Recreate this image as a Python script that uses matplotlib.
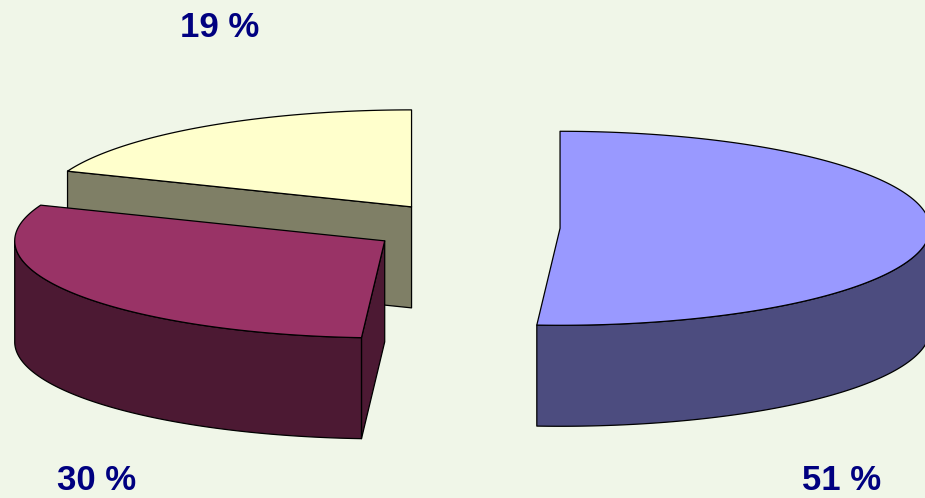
import numpy as np
import matplotlib.pyplot as plt
from matplotlib.patches import Polygon

# slice shares, clockwise from 12 o'clock
shares = [51, 30, 19]
labels = ['51 %', '30 %', '19 %']
top_colors = ['#9999FF', '#993366', '#FFFFCC']
side_colors = ['#4C4C7F', '#4C1933', '#7F7F66']

# layout (pixel space)
W, H = 925, 498
cx, cy = 465, 227.5
rx, ry = 370, 97
depth = 101
explode = 0.257
label_pos = [(842, 480), (97, 480), (220, 27)]

fig = plt.figure(figsize=(9.25, 4.98), dpi=100)
fig.patch.set_facecolor('#F0F6E8')
ax = fig.add_axes([0, 0, 1, 1])
ax.set_xlim(0, W)
ax.set_ylim(H, 0)
ax.axis('off')

edge = dict(edgecolor='black', linewidth=0.9, joinstyle='round')


def pt(ox, oy, t):
    return ox + rx * np.cos(t), oy - ry * np.sin(t)


def runs(mask):
    # contiguous True runs in a boolean array
    out, start = [], None
    for i, m in enumerate(mask):
        if m and start is None:
            start = i
        if not m and start is not None:
            out.append((start, i))
            start = None
    if start is not None:
        out.append((start, len(mask)))
    return out


slices = []
cum = 0
for share, tc, sc in zip(shares, top_colors, side_colors):
    t_hi = np.radians(90 - cum * 3.6)
    t_lo = np.radians(90 - (cum + share) * 3.6)
    cum += share
    mid = (t_lo + t_hi) / 2
    ox = cx + explode * rx * np.cos(mid)
    oy = cy - explode * ry * np.sin(mid)
    slices.append((oy, ox, t_lo, t_hi, tc, sc))

# back to front
for oy, ox, t_lo, t_hi, tc, sc in sorted(slices):
    # radial faces
    for t, nrm in ((t_lo, t_lo - np.pi / 2), (t_hi, t_hi + np.pi / 2)):
        if np.sin(nrm) < -1e-6:
            px, py = pt(ox, oy, t)
            poly = [(ox, oy), (px, py), (px, py + depth), (ox, oy + depth)]
            ax.add_patch(Polygon(poly, closed=True, facecolor=sc, **edge))
    # front part of outer wall
    ts = np.linspace(t_lo, t_hi, 600)
    for a, b in runs(np.sin(ts) < 0):
        seg = ts[a:b]
        xs, ys = pt(ox, oy, seg)
        poly = list(zip(xs, ys)) + list(zip(xs[::-1], ys[::-1] + depth))
        ax.add_patch(Polygon(poly, closed=True, facecolor=sc, **edge))
    # top face
    xs, ys = pt(ox, oy, ts)
    poly = [(ox, oy)] + list(zip(xs, ys))
    ax.add_patch(Polygon(poly, closed=True, facecolor=tc, **edge))

for lab, (x, y) in zip(labels, label_pos):
    ax.text(x, y, lab, ha='center', va='center', fontsize=25,
            fontweight='bold', color='#000080', family='Liberation Sans')

fig.savefig('out.png', dpi=100, facecolor=fig.get_facecolor())
